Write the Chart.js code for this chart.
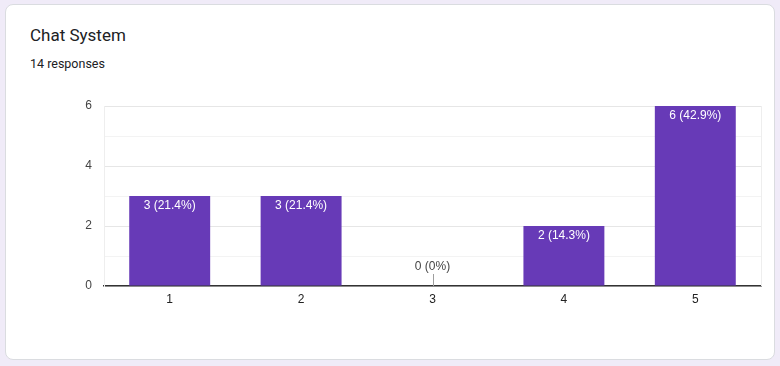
<!DOCTYPE html>
<html>
<head>
<meta charset="utf-8">
<script src="https://cdn.jsdelivr.net/npm/chart.js@4"></script>
<style>
  html, body { margin: 0; padding: 0; background: #f0ebf8; }
  #card {
    position: absolute; left: 5px; top: 4px; width: 768px; height: 354px;
    background: #fff; border: 1px solid #dadce0; border-radius: 8px;
  }
  #title {
    position: absolute; left: 24px; top: 20px; font-family: Roboto, sans-serif;
    font-size: 17px; color: #202124;
  }
  #sub {
    position: absolute; left: 24px; top: 51px; font-family: Roboto, sans-serif;
    font-size: 12.5px; color: #202124;
  }
  #wrap { position: absolute; left: 0; top: 0; width: 780px; height: 366px; }
</style>
</head>
<body>
<div id="card">
  <div id="title">Chat System</div>
  <div id="sub"></div>
</div>
<div id="wrap"><canvas id="Graph1"></canvas></div>
<script>
let xValues_graph1 = ["1", "2", "3", "4", "5"];
let yValues_graph1 = [3, 3, 0, 2, 6];
let yTicks_graph1 = [0, 2, 4, 6];
let barColor_graph1 = "#673ab7";

let total_graph1 = yValues_graph1.reduce((a, b) => a + b, 0);
document.getElementById("sub").textContent = total_graph1 + " responses";

let labelPlugin = {
    id: "barLabels",
    afterDatasetsDraw(chart) {
        let ctx = chart.ctx;
        let meta = chart.getDatasetMeta(0);
        ctx.save();
        ctx.font = "12px 'Liberation Sans', Arial";
        ctx.textAlign = "center";
        meta.data.forEach((bar, i) => {
            let v = yValues_graph1[i];
            let pct = Math.round(v / total_graph1 * 1000) / 10;
            let txt = v + " (" + pct + "%)";
            if (v > 0) {
                ctx.fillStyle = "#ffffff";
                ctx.textBaseline = "top";
                ctx.fillText(txt, bar.x, bar.y + 4);
            } else {
                ctx.strokeStyle = "#9e9e9e";
                ctx.lineWidth = 1;
                ctx.beginPath();
                ctx.moveTo(Math.round(bar.x) + 0.5, bar.base);
                ctx.lineTo(Math.round(bar.x) + 0.5, bar.base - 12);
                ctx.stroke();
                ctx.fillStyle = "#444444";
                ctx.textBaseline = "bottom";
                ctx.fillText(txt, bar.x, bar.base - 13);
            }
        });
        // right border of plot
        let a = chart.chartArea;
        ctx.strokeStyle = "#eeeeee";
        ctx.beginPath();
        ctx.moveTo(Math.round(a.right) + 0.5, a.top);
        ctx.lineTo(Math.round(a.right) + 0.5, a.bottom);
        ctx.stroke();
        ctx.restore();
    }
};

new Chart("Graph1", {
    type: "bar",
    data: {
        labels: xValues_graph1,
        datasets: [{
            backgroundColor: barColor_graph1,
            data: yValues_graph1,
            borderWidth: 0,
            categoryPercentage: 0.616,
            barPercentage: 1
        }]
    },
    options: {
        responsive: true,
        maintainAspectRatio: false,
        animation: false,
        plugins: { legend: { display: false }, tooltip: { enabled: false } },
        layout: { padding: { left: 0, top: 106, right: 19, bottom: 50 } },
        scales: {
            x: {
                grid: { display: false, drawTicks: false },
                border: { color: "#333333", width: 1.5 },
                ticks: { color: "#222222", font: { family: "'Liberation Sans', Arial", size: 12 }, padding: 6 },
                afterFit(s) { s.height = 30; }
            },
            y: {
                min: 0, max: 6,
                border: { color: "#eeeeee" },
                grid: {
                    drawTicks: false,
                    color: (c) => (c.tick.value % 2 === 0 ? "#e6e6e6" : "#f3f3f3")
                },
                ticks: {
                    stepSize: 1,
                    padding: 12,
                    color: "#444444",
                    font: { family: "'Liberation Sans', Arial", size: 12 },
                    callback: (v) => (yTicks_graph1.includes(v) ? v : "")
                },
                afterFit(s) { s.width = 104; }
            }
        }
    },
    plugins: [labelPlugin]
});
</script>
</body>
</html>
